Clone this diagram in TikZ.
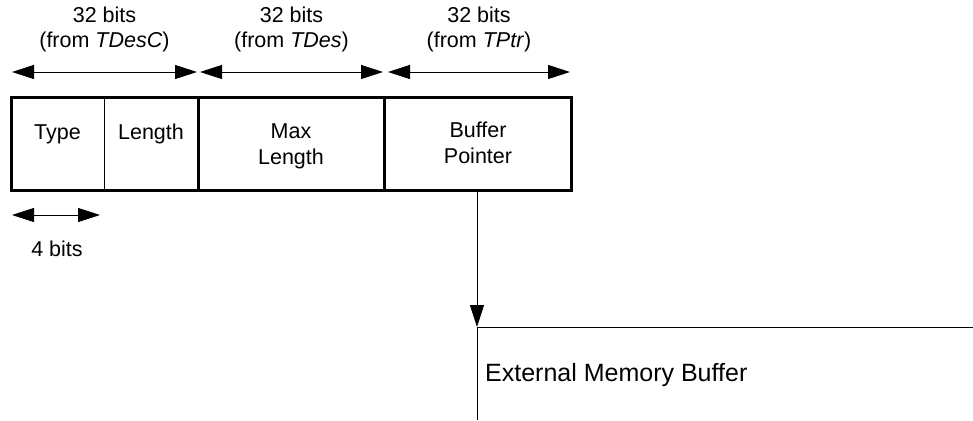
\documentclass[tikz,border=0pt]{standalone}
\usepackage{fontspec}
\setmainfont{Liberation Sans}
\usetikzlibrary{arrows.meta}
\begin{document}
\begin{tikzpicture}[x=1pt,y=-1pt,
  txt/.style={inner sep=0pt, align=center, anchor=base,
    font=\fontsize{21.5}{25.5}\selectfont},
  bigtxt/.style={inner sep=0pt, anchor=base west,
    font=\fontsize{25}{30}\selectfont},
  record/.style={draw, line width=3pt, rectangle, inner sep=0pt,
    minimum width=560pt, minimum height=93pt},
  thickdiv/.style={line width=3pt},
  thindiv/.style={line width=1pt},
  head/.tip={Triangle[length=22pt,width=14pt]},
  span/.style={line width=1pt, head-head},
  ptr/.style={line width=1pt, -head},
  membuf/.style={line width=1pt},
]
\useasboundingbox (0,0) rectangle (973,420);

% the descriptor record and its fields
\node[record] (rec) at (291,143.5) {};
\draw[thindiv]  (104,0 |- rec.north) -- (104,0 |- rec.south);
\draw[thickdiv] (198,0 |- rec.north) -- (198,0 |- rec.south);
\draw[thickdiv] (384,0 |- rec.north) -- (384,0 |- rec.south);

% (for multi-line texts the base anchor sits on the last line)
\node[txt] (type)   at (57.5,139)  {Type};
\node[txt] (length) at (151,139)   {Length};
\node[txt] (maxlen) at (291,164)   {Max\\Length};
\node[txt] (bufptr) at (478,163)   {Buffer\\Pointer};

% widths of the three 32-bit words
\coordinate (a1l) at (12,72);  \coordinate (a1r) at (197,72);
\coordinate (a2l) at (200,72); \coordinate (a2r) at (383,72);
\coordinate (a3l) at (388,72); \coordinate (a3r) at (570,72);
\draw[span] (a1l) -- (a1r);
\draw[span] (a2l) -- (a2r);
\draw[span] (a3l) -- (a3r);
\node[txt] (w1) at (104.5,48) {32 bits\\(from \textit{TDesC})};
\node[txt] (w2) at (291.5,48) {32 bits\\(from \textit{TDes})};
\node[txt] (w3) at (479,48)   {32 bits\\(from \textit{TPtr})};

% width of the type field
\coordinate (b1l) at (12,215); \coordinate (b1r) at (100,215);
\draw[span] (b1l) -- (b1r);
\node[txt] (w4) at (57,256.5) {4 bits};

% pointer into the external buffer
\coordinate (ptrbase) at (477,0 |- rec.south);
\coordinate (memtop)  at (477,327);
\coordinate (memright) at (973,327);
\coordinate (membottom) at (477,420);
\draw[ptr] (ptrbase) -- (memtop);
\draw[membuf] (memright) -- (memtop) -- (membottom);
\node[bigtxt] (mem) at (485,381.5) {External Memory Buffer};
\end{tikzpicture}
\end{document}
